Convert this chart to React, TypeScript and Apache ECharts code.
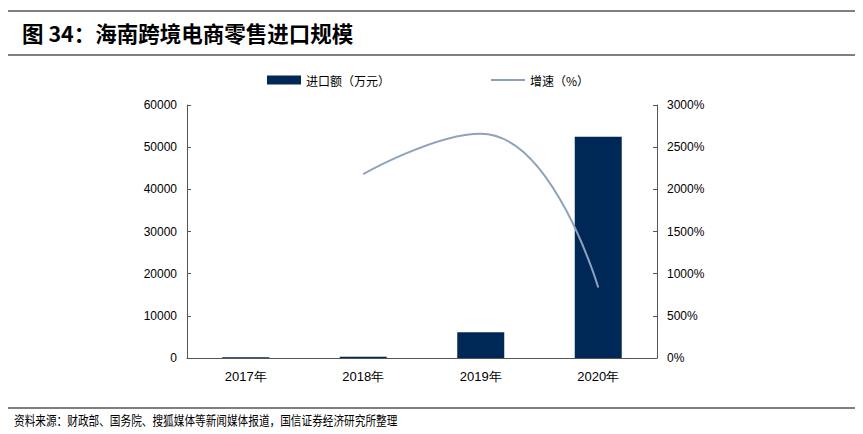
import React, { useEffect, useRef } from "react";
import * as echarts from "echarts";

const categories = ["2017年", "2018年", "2019年", "2020年"];
const importValues = [200, 300, 6100, 52500];
const growthValues = [null, 2180, 2660, 835];
const rightTicks = ["0%", "500%", "1000%", "1500%", "2000%", "2500%", "3000%"];

export default function App() {
  const ref = useRef<HTMLDivElement>(null);
  useEffect(() => {
    const chart = echarts.init(ref.current!, null, { renderer: "svg" });
    const axisFont = { color: "#000", fontSize: 12, fontFamily: "Liberation Sans, Arial, sans-serif" };
    chart.setOption({
      animation: false,
      backgroundColor: "#fff",
      grid: { left: 187, right: 206, top: 105, bottom: 76 },
      legend: {
        top: 69,
        left: 262,
        itemGap: 101,
        itemWidth: 34,
        itemHeight: 9,
        textStyle: { fontSize: 12, color: "#000", fontFamily: "Noto Sans CJK SC" },
        data: [
          { name: "进口额（万元）", icon: "rect" },
          { name: "增速（%）", icon: "path://M0,0 L34,0 L34,2 L0,2 Z" },
        ],
      },
      xAxis: {
        type: "category",
        data: categories,
        axisLine: { lineStyle: { color: "#555", width: 1 } },
        axisTick: { inside: true, length: 4, lineStyle: { color: "#555" } },
        axisLabel: { ...axisFont, fontSize: 13, margin: 12 },
      },
      yAxis: [
        {
          type: "value",
          min: 0,
          max: 60000,
          interval: 10000,
          axisLine: { show: true, lineStyle: { color: "#555" } },
          axisTick: { show: true, inside: true, length: 4, lineStyle: { color: "#555" } },
          axisLabel: { ...axisFont, margin: 10, formatter: (v: number) => String(v) },
          splitLine: { show: false },
        },
        {
          type: "value",
          min: 0,
          max: 3000,
          interval: 500,
          axisLine: { show: true, lineStyle: { color: "#555" } },
          axisTick: { show: true, inside: true, length: 4, lineStyle: { color: "#555" } },
          axisLabel: { ...axisFont, margin: 10, formatter: (v: number) => rightTicks[Math.round(v / 500)] },
          splitLine: { show: false },
        },
      ],
      series: [
        {
          name: "进口额（万元）",
          type: "bar",
          data: importValues,
          barWidth: "40%",
          itemStyle: { color: "#002856" },
          yAxisIndex: 0,
        },
        {
          name: "增速（%）",
          type: "line",
          data: growthValues,
          yAxisIndex: 1,
          smooth: 0.5,
          symbol: "none",
          lineStyle: { color: "#8ea3bb", width: 2 },
          itemStyle: { color: "#8ea3bb" },
        },
      ],
      graphic: [
        { type: "line", shape: { x1: 8, y1: 11, x2: 855, y2: 11 }, style: { stroke: "#000", lineWidth: 1 } },
        {
          type: "text",
          left: 22,
          top: 22,
          style: {
            text: "图 34：海南跨境电商零售进口规模",
            font: "bold 21.5px 'Noto Sans CJK SC', sans-serif",
            fill: "#000",
          },
        },
        { type: "line", shape: { x1: 8, y1: 55, x2: 855, y2: 55 }, style: { stroke: "#000", lineWidth: 1 } },
        { type: "line", shape: { x1: 8, y1: 408, x2: 855, y2: 408 }, style: { stroke: "#000", lineWidth: 1 } },
        {
          type: "text",
          x: 14,
          y: 412,
          scaleX: 0.82,
          style: {
            text: "资料来源：财政部、国务院、搜狐媒体等新闻媒体报道，国信证券经济研究所整理",
            font: "13px 'Noto Sans CJK SC', sans-serif",
            fill: "#000",
          },
        },
      ],
    });
    return () => chart.dispose();
  }, []);
  return <div ref={ref} style={{ width: 863, height: 434, position: "absolute", left: 0, top: 0 }} />;
}
